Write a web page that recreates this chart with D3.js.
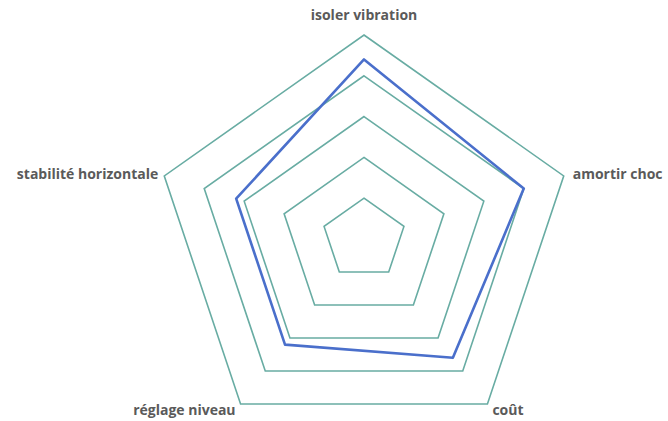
<!DOCTYPE html>
<html>
<head>
<meta charset="utf-8">
<script src="https://cdn.jsdelivr.net/npm/d3@7"></script>
<style>
  body { margin: 0; background: #fff; }
  svg { display: block; }
  .axis-label { font-family: "Open Sans", sans-serif; font-weight: 700; font-size: 14px; fill: #5a5a5a; }
  .grid { fill: none; stroke: #68aca3; stroke-width: 1.6; }
  .series { fill: none; stroke: #4a6fcb; stroke-width: 2.6; stroke-linejoin: round; }
</style>
</head>
<body>
<div id="chart"></div>
<script>
// Data
var categories = ["isoler vibration", "amortir choc", "coût", "réglage niveau", "stabilité horizontale"];
var values = [4.4, 4.0, 3.6, 3.2, 3.2];
var gridLevels = [1, 2, 3, 4, 5];

// Setup
var width = 668;
var height = 421;
var center = { x: 364, y: 239 };
var radiusX = 210;
var radiusY = 204;

var svg = d3
  .select("#chart")
  .append("svg")
  .attr("width", width)
  .attr("height", height);

var chartElement = svg.append("g").attr("transform", `translate(${center.x},${center.y})`);

// Scales
var rScale = d3.scaleLinear().domain([0, 5]).range([0, 1]);
var angleScale = d3
  .scalePoint()
  .domain(categories)
  .range([0, (2 * Math.PI * (categories.length - 1)) / categories.length]);

function point(cat, v) {
  var a = angleScale(cat);
  return [Math.sin(a) * rScale(v) * radiusX, -Math.cos(a) * rScale(v) * radiusY];
}

var line = d3.line().curve(d3.curveLinearClosed);

// Render grid pentagons
chartElement
  .selectAll(".grid")
  .data(gridLevels)
  .enter()
  .append("path")
  .attr("class", "grid")
  .attr("d", (lvl) => line(categories.map((c) => point(c, lvl))));

// Render series
chartElement
  .append("path")
  .attr("class", "series")
  .attr("d", line(categories.map((c, i) => point(c, values[i]))));

// Render labels
var labelPos = [
  { dx: 0, dy: -20, anchor: "middle" },
  { dx: 9, dy: -2, anchor: "start" },
  { dx: 5, dy: 6, anchor: "start" },
  { dx: -5, dy: 6, anchor: "end" },
  { dx: -6, dy: -2, anchor: "end" },
];

chartElement
  .selectAll(".axis-label")
  .data(categories)
  .enter()
  .append("text")
  .attr("class", "axis-label")
  .attr("x", (d, i) => point(d, 5)[0] + labelPos[i].dx)
  .attr("y", (d, i) => point(d, 5)[1] + labelPos[i].dy)
  .attr("dy", "0.35em")
  .attr("text-anchor", (d, i) => labelPos[i].anchor)
  .text((d) => d);
</script>
</body>
</html>
